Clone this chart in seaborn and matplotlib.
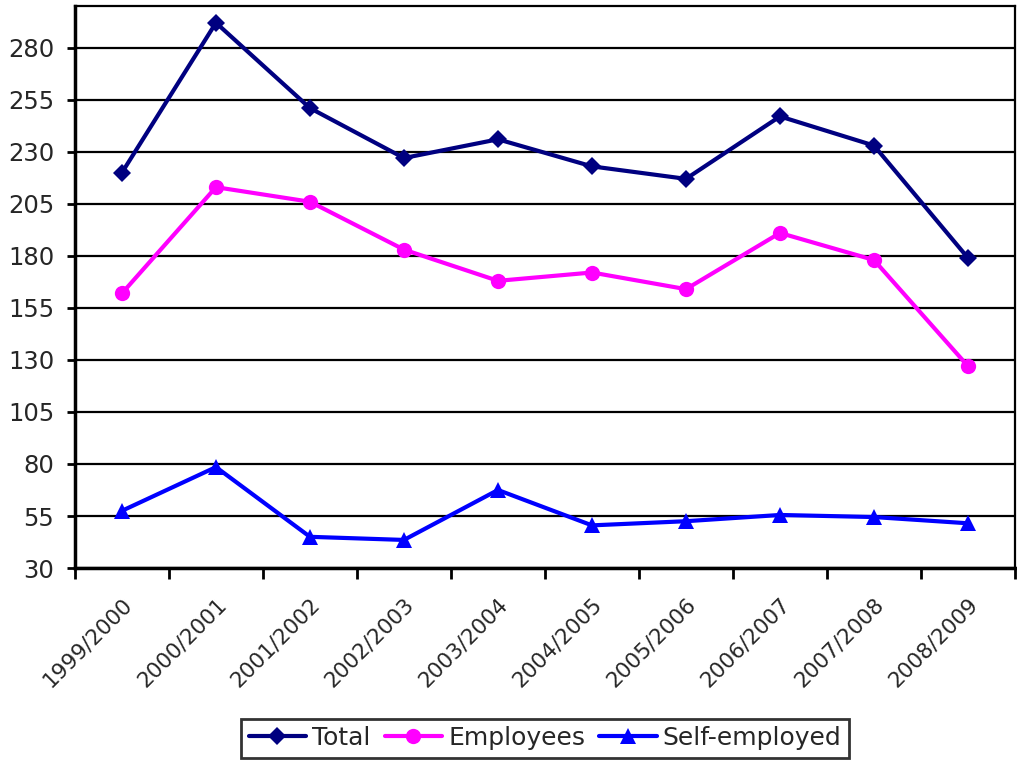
import matplotlib
matplotlib.use("Agg")
import matplotlib.pyplot as plt
import matplotlib.transforms as mtransforms
import numpy as np
import pandas as pd
import seaborn as sns

periods = ["1999/2000", "2000/2001", "2001/2002", "2002/2003", "2003/2004",
           "2004/2005", "2005/2006", "2006/2007", "2007/2008", "2008/2009"]
total = [220, 292, 251, 227, 236, 223, 217, 247, 233, 179]
employees = [162, 213, 206, 183, 168, 172, 164, 191, 178, 127]
self_employed = [57.5, 78.5, 45, 43.5, 67.5, 50.5, 52.5, 55.5, 54.5, 51.5]
y_ticks = [30, 55, 80, 105, 130, 155, 180, 205, 230, 255, 280]

series_names = ["Total", "Employees", "Self-employed"]
colors = {"Total": "#000080", "Employees": "#FF00FF", "Self-employed": "#0000FF"}
markers = {"Total": "D", "Employees": "o", "Self-employed": "^"}
marker_sizes = {"D": 9.5, "o": 11, "^": 12}

df = pd.DataFrame({
    "period": periods * 3,
    "idx": list(range(len(periods))) * 3,
    "value": total + employees + self_employed,
    "series": ["Total"] * len(periods) + ["Employees"] * len(periods)
              + ["Self-employed"] * len(periods),
})

sns.set_style("white")
plt.rcParams["font.family"] = ["DejaVu Sans"]

fig = plt.figure(figsize=(10.17, 7.64), dpi=100)
ax = fig.add_axes([0.0737, 0.2565, 0.9243, 0.7355])

sns.lineplot(data=df, x="idx", y="value", hue="series", style="series",
             hue_order=series_names, style_order=series_names,
             palette=colors, markers=markers, dashes=False,
             linewidth=3.0, markersize=10, markeredgewidth=0,
             ax=ax, legend=True)

for line in ax.lines:
    m = line.get_marker()
    if m in marker_sizes:
        line.set_markersize(marker_sizes[m])

ax.set_xlim(-0.5, len(periods) - 0.5)
ax.set_ylim(30, 300)
ax.set_yticks(y_ticks)
ax.set_yticklabels([str(v) for v in y_ticks], fontsize=17.5)
ax.yaxis.grid(True, color="black", linewidth=1.6)
ax.xaxis.grid(False)
ax.set_axisbelow(True)

# category labels centred on each point, tick marks between categories
ax.set_xticks(range(len(periods)))
ax.set_xticklabels(periods, rotation=45, ha="right", rotation_mode="anchor",
                   fontsize=15.5)
shift = mtransforms.ScaledTranslation(-0.12, 0, fig.dpi_scale_trans)
for lab in ax.get_xticklabels():
    lab.set_transform(lab.get_transform() + shift)
ax.set_xticks(np.arange(-0.5, len(periods), 1.0), minor=True)
ax.tick_params(axis="x", which="major", length=0, pad=19)
ax.tick_params(axis="x", which="minor", length=8, width=2, color="black",
               direction="out", bottom=True)
ax.tick_params(axis="y", which="major", length=6, width=2, color="black",
               direction="out", left=True, pad=9)
ax.set_xlabel("")
ax.set_ylabel("")

for side in ["left", "bottom", "right", "top"]:
    ax.spines[side].set_visible(True)
    ax.spines[side].set_color("black")
ax.spines["left"].set_linewidth(2.5)
ax.spines["bottom"].set_linewidth(2.5)
ax.spines["right"].set_linewidth(1.6)
ax.spines["top"].set_linewidth(1.6)

handles, labels = ax.get_legend_handles_labels()
for h in handles:
    h.set_linewidth(3.0)
    m = h.get_marker()
    if m in marker_sizes:
        h.set_markersize(marker_sizes[m])
ax.legend_.remove()
leg = fig.legend(handles, labels, loc="center", bbox_to_anchor=(0.536, 0.034),
                 ncol=3, fontsize=18, frameon=True, fancybox=False,
                 edgecolor="black", handlelength=2.3, handletextpad=0.25,
                 columnspacing=0.55, borderpad=0.3, borderaxespad=0)
leg.get_frame().set_linewidth(2)

fig.savefig("out.png", dpi=100, facecolor="white")
